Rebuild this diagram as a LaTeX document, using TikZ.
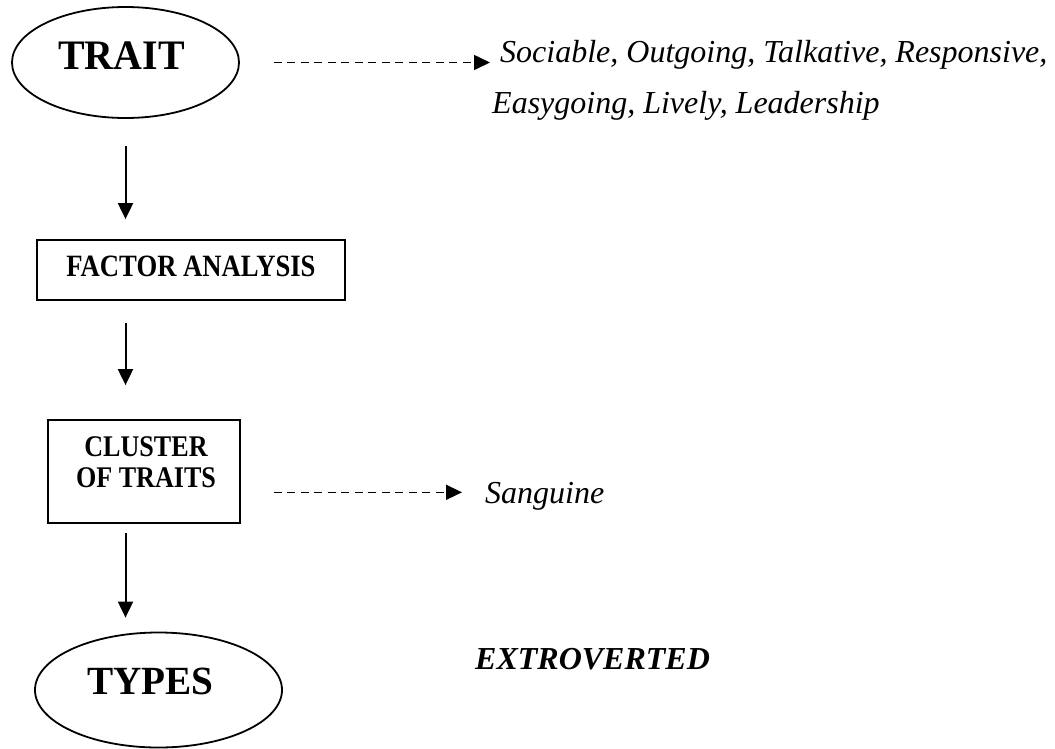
\documentclass[tikz,border=0pt]{standalone}
\usepackage{fontspec}
\setmainfont{Liberation Serif}
\usepackage{graphicx}
\usetikzlibrary{shapes.geometric,arrows.meta}
\begin{document}
\begin{tikzpicture}[x=1pt,y=-1pt,
  shapeline/.style={draw,line width=1.8pt,inner sep=0pt},
  oval/.style={shapeline,ellipse},
  boxnode/.style={shapeline,rectangle},
  flow/.style={line width=2pt,-{Triangle[length=16pt,width=15pt]}},
  dashflow/.style={line width=1.6pt,dash pattern=on 8pt off 5.5pt,-{Triangle[length=16pt,width=15pt]}},
  itext/.style={inner sep=0pt,anchor=base west,font=\fontsize{32}{32}\selectfont\itshape},
]
\path[use as bounding box] (0,0) rectangle (1055,748);

\node[oval,minimum width=227pt,minimum height=111pt] (trait) at (125.5,62.5)
  {\raisebox{6.5pt}[\height][\depth]{\scalebox{0.95}[1]{\fontsize{42}{42}\selectfont\bfseries TRAIT}}\hspace*{8pt}};
\node[boxnode,minimum width=308pt,minimum height=60pt] (factor) at (191,270)
  {\raisebox{3.5pt}[\height][\depth]{\scalebox{0.86}[1]{\fontsize{31}{31}\selectfont\bfseries FACTOR ANALYSIS}}};
\node[boxnode,minimum width=192pt,minimum height=103pt] (cluster) at (144,471.5)
  {\raisebox{9pt}[\height][\depth]{\scalebox{0.87}[1]{\fontsize{30}{31}\selectfont\bfseries\vbox{\halign{\hfil#\hfil\cr CLUSTER\cr OF TRAITS\cr}}}}\hspace*{-4pt}};
\node[oval,minimum width=247pt,minimum height=115pt] (types) at (158.5,690)
  {\raisebox{9pt}[\height][\depth]{\scalebox{0.98}[1]{\fontsize{40}{40}\selectfont\bfseries TYPES}}\hspace*{16pt}};

\node[itext] (list1) at (500,62) {Sociable, Outgoing, Talkative, Responsive,};
\node[itext] (list2) at (492,113) {Easygoing, Lively, Leadership};
\node[itext] (sang) at (485,503) {Sanguine};
\node[itext,font=\fontsize{32}{32}\selectfont\bfseries\itshape] (extro) at (475,669) {EXTROVERTED};

\draw[flow,shorten <=27.5pt,shorten >=20pt] (trait.south) -- (trait.south |- factor.north);
\draw[flow,shorten <=22pt,shorten >=34pt] (trait.south |- factor.south) -- (trait.south |- cluster.north);
\draw[flow,shorten <=9pt,shorten >=14pt] (trait.south |- cluster.south) -- (trait.south |- types.north);

\draw[dashflow,shorten <=34pt,shorten >=10pt] (trait.east) -- (trait.east -| list1.west);
\draw[dashflow,shorten <=33pt,shorten >=23pt] ([yshift=3.5pt]cluster.east |- sang.west) -- ([yshift=3.5pt]sang.west);
\end{tikzpicture}
\end{document}
